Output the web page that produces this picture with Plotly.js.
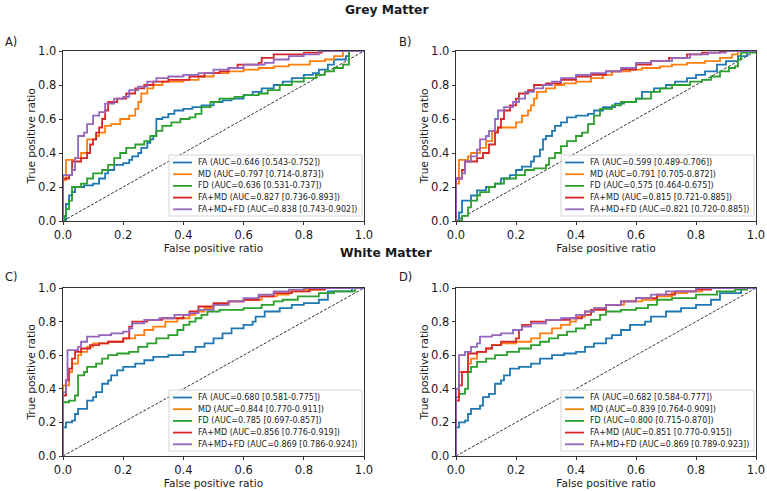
<!DOCTYPE html>
<html>
<head>
<meta charset="utf-8">
<script src="https://cdn.plot.ly/plotly-3.0.1.min.js"></script>
<style>
  html, body { margin: 0; padding: 0; background: #ffffff; }
  #chart { width: 767px; height: 491px; }
</style>
</head>
<body>
<div id="chart"></div>
<script>
// ROC curves (false positive ratio vs. true positive ratio) for grey and white matter models.

const seriesNames = ['FA', 'MD', 'FD', 'FA+MD', 'FA+MD+FD'];
const tickVals = [0, 0.2, 0.4, 0.6, 0.8, 1.0];
const tickText = ['0.0', '0.2', '0.4', '0.6', '0.8', '1.0'];

// ---- A) Grey Matter, model set 1 ----
const aucA = [0.646, 0.797, 0.636, 0.827, 0.838];
const ciLowA = [0.543, 0.714, 0.531, 0.736, 0.743];
const ciHighA = [0.752, 0.873, 0.737, 0.893, 0.902];

const A_FA_x = [0, 0.01, 0.02, 0.03, 0.04, 0.07, 0.10, 0.12, 0.14, 0.15, 0.17, 0.20, 0.22, 0.23, 0.25, 0.26, 0.28, 0.29, 0.30, 0.31, 0.33, 0.35, 0.37, 0.40, 0.43, 0.46, 0.50, 0.53, 0.56, 0.60, 0.63, 0.66, 0.70, 0.73, 0.76, 0.80, 0.83, 0.85, 0.88, 0.90, 0.94, 0.95, 1.0];
const A_FA_y = [0, 0.10, 0.15, 0.17, 0.20, 0.21, 0.22, 0.25, 0.28, 0.30, 0.33, 0.34, 0.36, 0.38, 0.40, 0.43, 0.46, 0.48, 0.50, 0.60, 0.61, 0.63, 0.65, 0.66, 0.67, 0.68, 0.70, 0.71, 0.72, 0.74, 0.76, 0.78, 0.80, 0.82, 0.84, 0.86, 0.87, 0.89, 0.92, 0.95, 0.97, 1.0, 1.0];
const A_MD_x = [0, 0, 0.01, 0.04, 0.06, 0.08, 0.11, 0.12, 0.14, 0.16, 0.19, 0.22, 0.24, 0.25, 0.26, 0.28, 0.30, 0.33, 0.40, 0.45, 0.50, 0.55, 0.60, 0.65, 0.70, 0.75, 0.82, 0.87, 0.90, 0.93, 1.0];
const A_MD_y = [0, 0.24, 0.36, 0.37, 0.40, 0.48, 0.50, 0.52, 0.56, 0.57, 0.60, 0.62, 0.66, 0.70, 0.75, 0.78, 0.80, 0.82, 0.83, 0.85, 0.87, 0.88, 0.89, 0.90, 0.91, 0.92, 0.94, 0.95, 0.97, 1.0, 1.0];
const A_FD_x = [0, 0.005, 0.01, 0.02, 0.03, 0.06, 0.08, 0.10, 0.13, 0.15, 0.17, 0.19, 0.21, 0.24, 0.27, 0.29, 0.31, 0.33, 0.36, 0.39, 0.42, 0.44, 0.46, 0.49, 0.52, 0.57, 0.60, 0.65, 0.68, 0.72, 0.76, 0.80, 0.84, 0.87, 0.90, 0.93, 0.95, 1.0];
const A_FD_y = [0, 0.03, 0.07, 0.12, 0.20, 0.22, 0.25, 0.28, 0.30, 0.33, 0.37, 0.40, 0.43, 0.45, 0.47, 0.50, 0.53, 0.56, 0.58, 0.60, 0.61, 0.63, 0.67, 0.70, 0.72, 0.73, 0.74, 0.75, 0.77, 0.80, 0.82, 0.84, 0.86, 0.88, 0.90, 0.92, 1.0, 1.0];
const A_FAMD_x = [0, 0, 0.02, 0.03, 0.06, 0.08, 0.09, 0.10, 0.11, 0.12, 0.13, 0.14, 0.15, 0.18, 0.21, 0.24, 0.27, 0.30, 0.35, 0.42, 0.47, 0.52, 0.55, 0.58, 0.65, 0.66, 0.70, 0.80, 0.86, 1.0];
const A_FAMD_y = [0, 0.25, 0.27, 0.35, 0.37, 0.40, 0.45, 0.48, 0.52, 0.55, 0.60, 0.65, 0.70, 0.72, 0.75, 0.78, 0.80, 0.82, 0.83, 0.85, 0.87, 0.88, 0.90, 0.92, 0.93, 0.96, 0.98, 0.99, 1.0, 1.0];
const A_ALL_x = [0, 0, 0.03, 0.04, 0.05, 0.07, 0.08, 0.10, 0.12, 0.14, 0.17, 0.20, 0.22, 0.25, 0.28, 0.31, 0.35, 0.40, 0.45, 0.50, 0.55, 0.60, 0.67, 0.70, 0.75, 0.80, 0.85, 1.0];
const A_ALL_y = [0, 0.27, 0.30, 0.37, 0.50, 0.52, 0.57, 0.62, 0.64, 0.69, 0.72, 0.73, 0.77, 0.79, 0.82, 0.84, 0.85, 0.86, 0.87, 0.89, 0.90, 0.92, 0.93, 0.95, 0.97, 0.98, 1.0, 1.0];

// ---- B) Grey Matter, model set 2 ----
const aucB = [0.599, 0.791, 0.575, 0.815, 0.821];
const ciLowB = [0.489, 0.705, 0.464, 0.721, 0.720];
const ciHighB = [0.706, 0.872, 0.675, 0.885, 0.885];

const B_FA_x = [0, 0.01, 0.02, 0.04, 0.05, 0.07, 0.10, 0.13, 0.15, 0.18, 0.20, 0.22, 0.25, 0.26, 0.28, 0.29, 0.30, 0.32, 0.33, 0.35, 0.37, 0.40, 0.44, 0.46, 0.49, 0.53, 0.56, 0.60, 0.62, 0.66, 0.70, 0.73, 0.77, 0.80, 0.83, 0.87, 0.90, 0.94, 0.97, 1.0];
const B_FA_y = [0, 0.05, 0.12, 0.12, 0.15, 0.18, 0.20, 0.22, 0.25, 0.27, 0.30, 0.32, 0.35, 0.38, 0.42, 0.48, 0.50, 0.53, 0.56, 0.58, 0.61, 0.62, 0.63, 0.65, 0.67, 0.69, 0.70, 0.72, 0.76, 0.78, 0.80, 0.82, 0.84, 0.86, 0.88, 0.92, 0.94, 0.97, 1.0, 1.0];
const B_MD_x = [0, 0, 0.01, 0.04, 0.05, 0.08, 0.10, 0.12, 0.14, 0.20, 0.22, 0.24, 0.25, 0.26, 0.27, 0.30, 0.33, 0.36, 0.40, 0.45, 0.49, 0.52, 0.58, 0.62, 0.68, 0.72, 0.77, 0.83, 0.88, 0.92, 0.94, 1.0];
const B_MD_y = [0, 0.22, 0.36, 0.38, 0.40, 0.43, 0.47, 0.53, 0.55, 0.58, 0.62, 0.65, 0.68, 0.72, 0.76, 0.78, 0.80, 0.81, 0.82, 0.84, 0.86, 0.88, 0.89, 0.90, 0.91, 0.92, 0.93, 0.94, 0.96, 0.98, 1.0, 1.0];
const B_FD_x = [0, 0.02, 0.04, 0.05, 0.07, 0.08, 0.11, 0.13, 0.16, 0.20, 0.23, 0.26, 0.30, 0.31, 0.33, 0.35, 0.37, 0.40, 0.42, 0.44, 0.46, 0.48, 0.52, 0.55, 0.60, 0.65, 0.68, 0.72, 0.78, 0.82, 0.85, 0.88, 0.91, 0.93, 0.94, 0.95, 1.0];
const B_FD_y = [0, 0.03, 0.08, 0.12, 0.15, 0.17, 0.20, 0.22, 0.25, 0.27, 0.30, 0.31, 0.33, 0.37, 0.40, 0.44, 0.47, 0.50, 0.52, 0.57, 0.62, 0.66, 0.68, 0.70, 0.72, 0.76, 0.78, 0.80, 0.82, 0.83, 0.85, 0.88, 0.90, 0.91, 0.95, 0.99, 1.0];
const B_FAMD_x = [0, 0, 0.02, 0.03, 0.07, 0.09, 0.11, 0.13, 0.14, 0.15, 0.16, 0.18, 0.20, 0.21, 0.24, 0.26, 0.30, 0.35, 0.40, 0.45, 0.50, 0.55, 0.60, 0.65, 0.71, 0.77, 0.82, 0.88, 1.0];
const B_FAMD_y = [0, 0.25, 0.30, 0.35, 0.37, 0.40, 0.45, 0.52, 0.55, 0.60, 0.65, 0.68, 0.72, 0.75, 0.77, 0.80, 0.81, 0.83, 0.85, 0.86, 0.88, 0.89, 0.92, 0.94, 0.96, 0.98, 0.99, 1.0, 1.0];
const B_ALL_x = [0, 0, 0.02, 0.03, 0.05, 0.07, 0.08, 0.10, 0.11, 0.13, 0.14, 0.16, 0.19, 0.21, 0.23, 0.26, 0.29, 0.32, 0.35, 0.40, 0.45, 0.50, 0.55, 0.60, 0.65, 0.72, 0.78, 0.84, 0.90, 1.0];
const B_ALL_y = [0, 0.25, 0.28, 0.35, 0.38, 0.42, 0.48, 0.50, 0.53, 0.60, 0.65, 0.67, 0.70, 0.72, 0.76, 0.78, 0.80, 0.82, 0.84, 0.86, 0.87, 0.88, 0.90, 0.93, 0.94, 0.96, 0.98, 0.99, 1.0, 1.0];

// ---- C) White Matter, model set 1 ----
const aucC = [0.680, 0.844, 0.785, 0.856, 0.869];
const ciLowC = [0.581, 0.770, 0.697, 0.776, 0.786];
const ciHighC = [0.775, 0.911, 0.857, 0.919, 0.924];

const C_FA_x = [0, 0, 0.01, 0.03, 0.04, 0.05, 0.08, 0.10, 0.11, 0.13, 0.15, 0.16, 0.18, 0.20, 0.24, 0.27, 0.30, 0.35, 0.40, 0.44, 0.47, 0.50, 0.53, 0.56, 0.60, 0.63, 0.64, 0.67, 0.72, 0.76, 0.80, 0.85, 0.88, 0.96, 1.0];
const C_FA_y = [0, 0.17, 0.20, 0.21, 0.25, 0.28, 0.33, 0.35, 0.38, 0.43, 0.45, 0.48, 0.51, 0.53, 0.55, 0.57, 0.59, 0.60, 0.62, 0.65, 0.67, 0.70, 0.73, 0.76, 0.78, 0.80, 0.83, 0.86, 0.88, 0.90, 0.91, 0.93, 0.98, 1.0, 1.0];
const C_MD_x = [0, 0, 0.02, 0.03, 0.05, 0.06, 0.08, 0.10, 0.15, 0.20, 0.24, 0.27, 0.30, 0.34, 0.38, 0.42, 0.44, 0.47, 0.50, 0.55, 0.60, 0.66, 0.71, 0.75, 0.80, 0.85, 1.0];
const C_MD_y = [0, 0.42, 0.50, 0.55, 0.60, 0.62, 0.65, 0.67, 0.68, 0.70, 0.72, 0.75, 0.77, 0.80, 0.82, 0.84, 0.86, 0.88, 0.90, 0.92, 0.93, 0.95, 0.96, 0.98, 0.99, 1.0, 1.0];
const C_FD_x = [0, 0, 0.02, 0.04, 0.05, 0.07, 0.08, 0.11, 0.13, 0.15, 0.18, 0.22, 0.25, 0.28, 0.31, 0.35, 0.38, 0.40, 0.42, 0.44, 0.46, 0.48, 0.52, 0.60, 0.66, 0.70, 0.73, 0.78, 0.85, 0.90, 0.97, 1.0];
const C_FD_y = [0, 0.32, 0.33, 0.36, 0.48, 0.50, 0.53, 0.55, 0.58, 0.60, 0.61, 0.62, 0.65, 0.67, 0.70, 0.72, 0.75, 0.78, 0.80, 0.82, 0.84, 0.86, 0.87, 0.88, 0.90, 0.92, 0.93, 0.95, 0.97, 0.98, 1.0, 1.0];
const C_FAMD_x = [0, 0, 0.01, 0.02, 0.03, 0.04, 0.06, 0.09, 0.12, 0.15, 0.20, 0.22, 0.23, 0.28, 0.33, 0.40, 0.42, 0.45, 0.50, 0.55, 0.60, 0.65, 0.70, 0.76, 0.82, 0.87, 1.0];
const C_FAMD_y = [0, 0.36, 0.45, 0.52, 0.58, 0.62, 0.64, 0.66, 0.67, 0.68, 0.70, 0.77, 0.80, 0.81, 0.82, 0.84, 0.86, 0.89, 0.91, 0.92, 0.93, 0.95, 0.97, 0.98, 0.99, 1.0, 1.0];
const C_ALL_x = [0, 0, 0.01, 0.015, 0.05, 0.06, 0.08, 0.12, 0.16, 0.20, 0.22, 0.23, 0.27, 0.32, 0.37, 0.42, 0.45, 0.50, 0.55, 0.60, 0.65, 0.70, 0.75, 0.80, 1.0];
const C_ALL_y = [0, 0.38, 0.45, 0.63, 0.65, 0.68, 0.71, 0.72, 0.73, 0.74, 0.76, 0.79, 0.81, 0.82, 0.84, 0.85, 0.87, 0.90, 0.92, 0.94, 0.96, 0.98, 0.99, 1.0, 1.0];

// ---- D) White Matter, model set 2 ----
const aucD = [0.682, 0.839, 0.800, 0.851, 0.869];
const ciLowD = [0.584, 0.764, 0.715, 0.770, 0.789];
const ciHighD = [0.777, 0.909, 0.870, 0.915, 0.923];

const D_FA_x = [0, 0, 0.01, 0.03, 0.04, 0.05, 0.08, 0.09, 0.11, 0.13, 0.15, 0.16, 0.18, 0.21, 0.25, 0.28, 0.32, 0.36, 0.40, 0.43, 0.46, 0.50, 0.52, 0.55, 0.58, 0.63, 0.65, 0.70, 0.75, 0.80, 0.85, 0.88, 0.95, 1.0];
const D_FA_y = [0, 0.17, 0.20, 0.21, 0.25, 0.28, 0.30, 0.35, 0.37, 0.43, 0.45, 0.48, 0.52, 0.53, 0.55, 0.58, 0.60, 0.61, 0.62, 0.65, 0.67, 0.70, 0.72, 0.75, 0.78, 0.80, 0.83, 0.86, 0.88, 0.90, 0.93, 0.97, 1.0, 1.0];
const D_MD_x = [0, 0, 0.01, 0.04, 0.05, 0.07, 0.10, 0.12, 0.15, 0.20, 0.25, 0.28, 0.32, 0.35, 0.38, 0.40, 0.43, 0.46, 0.50, 0.56, 0.62, 0.67, 0.72, 0.77, 0.82, 1.0];
const D_MD_y = [0, 0.35, 0.50, 0.55, 0.58, 0.62, 0.64, 0.66, 0.67, 0.68, 0.70, 0.73, 0.76, 0.78, 0.80, 0.83, 0.86, 0.88, 0.90, 0.92, 0.93, 0.95, 0.97, 0.98, 1.0, 1.0];
const D_FD_x = [0, 0, 0.01, 0.03, 0.04, 0.05, 0.07, 0.10, 0.13, 0.17, 0.21, 0.25, 0.28, 0.31, 0.34, 0.37, 0.40, 0.43, 0.45, 0.48, 0.50, 0.55, 0.60, 0.64, 0.67, 0.72, 0.80, 0.87, 0.93, 0.97, 1.0];
const D_FD_y = [0, 0.35, 0.37, 0.40, 0.50, 0.53, 0.56, 0.58, 0.60, 0.62, 0.64, 0.66, 0.68, 0.70, 0.72, 0.74, 0.76, 0.78, 0.81, 0.84, 0.86, 0.87, 0.88, 0.90, 0.93, 0.94, 0.96, 0.98, 0.99, 1.0, 1.0];
const D_FAMD_x = [0, 0, 0.01, 0.02, 0.04, 0.07, 0.10, 0.12, 0.15, 0.20, 0.21, 0.22, 0.25, 0.30, 0.38, 0.42, 0.45, 0.50, 0.55, 0.60, 0.67, 0.73, 0.80, 0.85, 1.0];
const D_FAMD_y = [0, 0.33, 0.42, 0.50, 0.61, 0.62, 0.64, 0.66, 0.68, 0.70, 0.75, 0.78, 0.80, 0.81, 0.82, 0.84, 0.87, 0.90, 0.92, 0.94, 0.96, 0.98, 0.99, 1.0, 1.0];
const D_ALL_x = [0, 0, 0.01, 0.03, 0.05, 0.07, 0.08, 0.12, 0.15, 0.19, 0.22, 0.25, 0.30, 0.35, 0.40, 0.43, 0.46, 0.50, 0.55, 0.60, 0.65, 0.70, 0.80, 1.0];
const D_ALL_y = [0, 0.40, 0.60, 0.62, 0.65, 0.67, 0.71, 0.72, 0.73, 0.75, 0.77, 0.79, 0.81, 0.82, 0.84, 0.86, 0.88, 0.90, 0.92, 0.94, 0.96, 0.98, 1.0, 1.0];

// ---------------- drawing ----------------
const W = 767, H = 491;
const FONT = 'DejaVu Sans, Verdana, sans-serif';
const TEXT_COLOR = '#1a1a1a';
const lineColors = ['#1f77b4', '#ff7f0e', '#2ca02c', '#d62728', '#9467bd'];

const panels = [
  { letter: 'A)', box: { l: 63, r: 364, t: 51, b: 221 }, letterPos: [3, 42],
    curves: [[A_FA_x, A_FA_y], [A_MD_x, A_MD_y], [A_FD_x, A_FD_y], [A_FAMD_x, A_FAMD_y], [A_ALL_x, A_ALL_y]],
    auc: aucA, lo: ciLowA, hi: ciHighA },
  { letter: 'B)', box: { l: 456, r: 756, t: 51, b: 221 }, letterPos: [397, 42],
    curves: [[B_FA_x, B_FA_y], [B_MD_x, B_MD_y], [B_FD_x, B_FD_y], [B_FAMD_x, B_FAMD_y], [B_ALL_x, B_ALL_y]],
    auc: aucB, lo: ciLowB, hi: ciHighB },
  { letter: 'C)', box: { l: 63, r: 364, t: 288, b: 456 }, letterPos: [3, 277],
    curves: [[C_FA_x, C_FA_y], [C_MD_x, C_MD_y], [C_FD_x, C_FD_y], [C_FAMD_x, C_FAMD_y], [C_ALL_x, C_ALL_y]],
    auc: aucC, lo: ciLowC, hi: ciHighC },
  { letter: 'D)', box: { l: 456, r: 756, t: 288, b: 456 }, letterPos: [397, 277],
    curves: [[D_FA_x, D_FA_y], [D_MD_x, D_MD_y], [D_FD_x, D_FD_y], [D_FAMD_x, D_FAMD_y], [D_ALL_x, D_ALL_y]],
    auc: aucD, lo: ciLowD, hi: ciHighD }
];

const traces = [];
const shapes = [];
const annotations = [];
const layout = {
  width: W, height: H,
  margin: { l: 0, r: 0, t: 0, b: 0 },
  paper_bgcolor: '#ffffff', plot_bgcolor: '#ffffff',
  showlegend: false,
  font: { family: FONT, color: TEXT_COLOR },
  shapes: shapes,
  annotations: annotations
};

function axisBase(domain, title, isX) {
  return {
    domain: domain,
    range: [0, 1],
    fixedrange: true,
    tickmode: 'array', tickvals: tickVals, ticktext: tickText,
    ticks: 'outside', ticklen: 3.5, tickwidth: 0.8, tickcolor: '#000',
    tickfont: { family: FONT, size: 11.5, color: TEXT_COLOR },
    showline: true, mirror: true, linecolor: '#000', linewidth: 0.8,
    showgrid: false, zeroline: false,
    automargin: false,
    title: { text: title, font: { family: FONT, size: 10.6, color: TEXT_COLOR }, standoff: isX ? 3 : 0 }
  };
}

panels.forEach((p, i) => {
  const n = i === 0 ? '' : String(i + 1);
  const xa = 'x' + n, ya = 'y' + n;
  const b = p.box;
  const pw = b.r - b.l, ph = b.b - b.t;

  const xAxis = axisBase([b.l / W, b.r / W], 'False positive ratio', true);
  xAxis.anchor = ya;
  const yAxis = axisBase([1 - b.b / H, 1 - b.t / H], 'True positive ratio', false);
  yAxis.anchor = xa;
  layout['xaxis' + n] = xAxis;
  layout['yaxis' + n] = yAxis;

  // chance diagonal
  traces.push({
    x: [0, 1], y: [0, 1], xaxis: xa, yaxis: ya,
    mode: 'lines', hoverinfo: 'skip',
    line: { color: '#000000', width: 0.8, dash: '3px,1.6px' }
  });

  // ROC step curves
  p.curves.forEach((c, k) => {
    traces.push({
      x: c[0], y: c[1], xaxis: xa, yaxis: ya,
      mode: 'lines', name: seriesNames[k],
      line: { color: lineColors[k], width: 1.8, shape: 'hv' }
    });
  });

  // legend frame in the lower-right corner of each panel
  const xr = xa + ' domain', yr = ya + ' domain';
  const boxRight = pw - 2, boxLeft = boxRight - 193;
  shapes.push({
    type: 'rect', xref: xr, yref: yr,
    x0: boxLeft / pw, x1: boxRight / pw, y0: 5 / ph, y1: 66 / ph,
    line: { color: '#cccccc', width: 0.8 }, fillcolor: 'rgba(255,255,255,0.85)', layer: 'above'
  });
  seriesNames.forEach((name, k) => {
    const yc = (58.5 - k * 11.7) / ph;
    shapes.push({
      type: 'line', xref: xr, yref: yr,
      x0: (boxLeft + 4) / pw, x1: (boxLeft + 23) / pw, y0: yc, y1: yc,
      line: { color: lineColors[k], width: 1.8 }, layer: 'above'
    });
    annotations.push({
      xref: xr, yref: yr, x: (boxLeft + 27) / pw, y: yc,
      xanchor: 'left', yanchor: 'middle', showarrow: false,
      text: name + ' (AUC=' + p.auc[k].toFixed(3) + ' [' + p.lo[k].toFixed(3) + '-' + p.hi[k].toFixed(3) + '])',
      font: { family: FONT, size: 8, color: TEXT_COLOR }
    });
  });

  // panel letter
  annotations.push({
    xref: 'paper', yref: 'paper', x: p.letterPos[0] / W, y: 1 - p.letterPos[1] / H,
    xanchor: 'left', yanchor: 'middle', showarrow: false, text: p.letter,
    font: { family: FONT, size: 11.5, color: TEXT_COLOR }
  });
});

// row headings
[['Grey Matter', 386.5, 9.5], ['White Matter', 387, 252.5]].forEach(h => {
  annotations.push({
    xref: 'paper', yref: 'paper', x: h[1] / W, y: 1 - h[2] / H,
    xanchor: 'center', yanchor: 'middle', showarrow: false,
    text: '<b>' + h[0] + '</b>',
    font: { family: FONT, size: 12.3, color: TEXT_COLOR }
  });
});

Plotly.newPlot('chart', traces, layout, { staticPlot: true, displayModeBar: false });
</script>
</body>
</html>
